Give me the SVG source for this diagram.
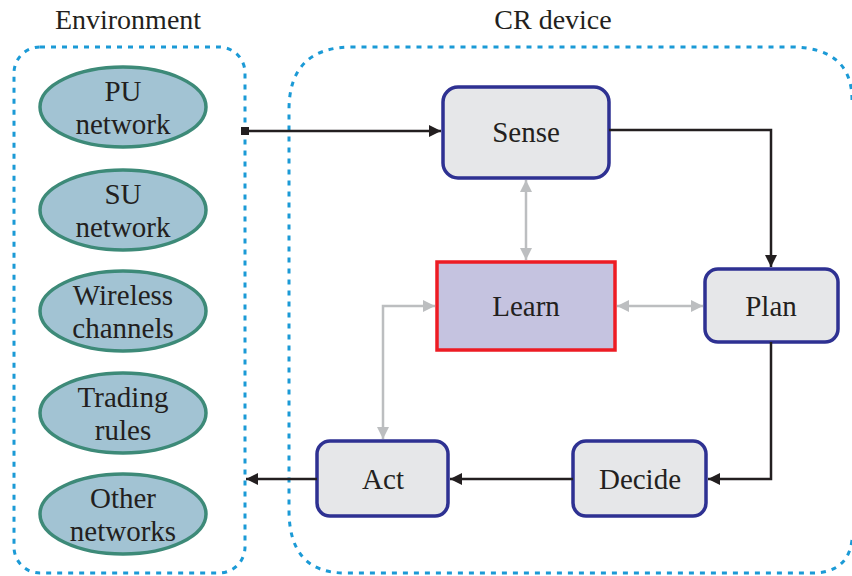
<svg xmlns="http://www.w3.org/2000/svg" width="852" height="576" viewBox="0 0 852 576">
  <style>
    .title { font-family: 'Liberation Serif', 'Times New Roman', Times, 'DejaVu Serif', serif; font-size: 28px; fill: #231f20; text-anchor: middle; }
    .lbl { font-family: 'Liberation Serif', 'Times New Roman', Times, 'DejaVu Serif', serif; font-size: 29px; fill: #231f20; text-anchor: middle; }
    .frame { fill: none; stroke: #1b9ad6; stroke-width: 3; stroke-dasharray: 5 6; }
    .env { fill: #a2c3d3; stroke: #3d8a78; stroke-width: 3.5; }
    .step { fill: #e6e7e9; stroke: #2e3192; stroke-width: 3.5; }
    .learn { fill: #c5c3e0; stroke: #ed1c24; stroke-width: 3.5; }
    .flow { fill: none; stroke: #231f20; stroke-width: 2.5; }
    .feedback { fill: none; stroke: #bcbec0; stroke-width: 2.5; }
  </style>
  <defs>
    <marker id="arrowDarkBig" viewBox="0 0 12 12" refX="12" refY="6" markerWidth="12" markerHeight="12" markerUnits="userSpaceOnUse" orient="auto">
      <path d="M0,0 L12,6 L0,12 z" fill="#231f20"/>
    </marker>
    <marker id="squareDark" viewBox="0 0 8 8" refX="4" refY="4" markerWidth="8" markerHeight="8" markerUnits="userSpaceOnUse" orient="auto">
      <rect x="0" y="0" width="8" height="8" fill="#231f20"/>
    </marker>
    <marker id="arrowGrey" viewBox="0 0 12 12" refX="12" refY="6" markerWidth="12" markerHeight="12" markerUnits="userSpaceOnUse" orient="auto-start-reverse">
      <path d="M0,0 L12,6 L0,12 z" fill="#bcbec0"/>
    </marker>
  </defs>

  <!-- group frames -->
  <g id="frames">
    <rect class="frame" x="14" y="47" width="231" height="526" rx="26"/>
    <path class="frame" d="M852,540 Q848,573 812,573 L345,573 Q289,573 289,510 L289,110 Q289,47 352,47 L790,47 Q852,47 852,100"/>
    <text class="title" x="128" y="29">Environment</text>
    <text class="title" x="553" y="29">CR device</text>
  </g>

  <!-- environment entities -->
  <g id="pu-network">
    <ellipse class="env" cx="123" cy="107" rx="83" ry="40"/>
    <text class="lbl" x="123" y="101">PU</text>
    <text class="lbl" x="123" y="134">network</text>
  </g>
  <g id="su-network">
    <ellipse class="env" cx="123" cy="210" rx="83" ry="40"/>
    <text class="lbl" x="123" y="204">SU</text>
    <text class="lbl" x="123" y="237">network</text>
  </g>
  <g id="wireless-channels">
    <ellipse class="env" cx="123" cy="311" rx="83" ry="40"/>
    <text class="lbl" x="123" y="305">Wireless</text>
    <text class="lbl" x="123" y="338">channels</text>
  </g>
  <g id="trading-rules">
    <ellipse class="env" cx="123" cy="413" rx="83" ry="40"/>
    <text class="lbl" x="123" y="407">Trading</text>
    <text class="lbl" x="123" y="440">rules</text>
  </g>
  <g id="other-networks">
    <ellipse class="env" cx="123" cy="514" rx="83" ry="40"/>
    <text class="lbl" x="123" y="508">Other</text>
    <text class="lbl" x="123" y="541">networks</text>
  </g>

  <!-- cognitive cycle steps -->
  <g id="sense">
    <rect class="step" x="443" y="87" width="166" height="91" rx="15"/>
    <text class="lbl" x="526" y="142">Sense</text>
  </g>
  <g id="learn">
    <rect class="learn" x="437" y="262" width="178" height="88"/>
    <text class="lbl" x="526" y="316">Learn</text>
  </g>
  <g id="plan">
    <rect class="step" x="705" y="269" width="133" height="73" rx="13"/>
    <text class="lbl" x="771" y="316">Plan</text>
  </g>
  <g id="decide">
    <rect class="step" x="573" y="441" width="133" height="75" rx="13"/>
    <text class="lbl" x="640" y="489">Decide</text>
  </g>
  <g id="act">
    <rect class="step" x="317" y="441" width="131" height="75" rx="13"/>
    <text class="lbl" x="383" y="489">Act</text>
  </g>

  <!-- connectors -->
  <g id="connectors">
    <path class="flow" d="M245,131 L441,131" marker-start="url(#squareDark)" marker-end="url(#arrowDarkBig)"/>
    <path class="flow" d="M609,130 L771,130 L771,267" marker-end="url(#arrowDarkBig)"/>
    <path class="flow" d="M771,342 L771,479 L708,479" marker-end="url(#arrowDarkBig)"/>
    <path class="flow" d="M573,479 L450,479" marker-end="url(#arrowDarkBig)"/>
    <path class="flow" d="M317,479 L246,479" marker-end="url(#arrowDarkBig)"/>
    <path class="feedback" d="M526,180 L526,260" marker-start="url(#arrowGrey)" marker-end="url(#arrowGrey)"/>
    <path class="feedback" d="M617,306 L703,306" marker-start="url(#arrowGrey)" marker-end="url(#arrowGrey)"/>
    <path class="feedback" d="M383,439 L383,306 L435,306" marker-start="url(#arrowGrey)" marker-end="url(#arrowGrey)"/>
  </g>
</svg>
